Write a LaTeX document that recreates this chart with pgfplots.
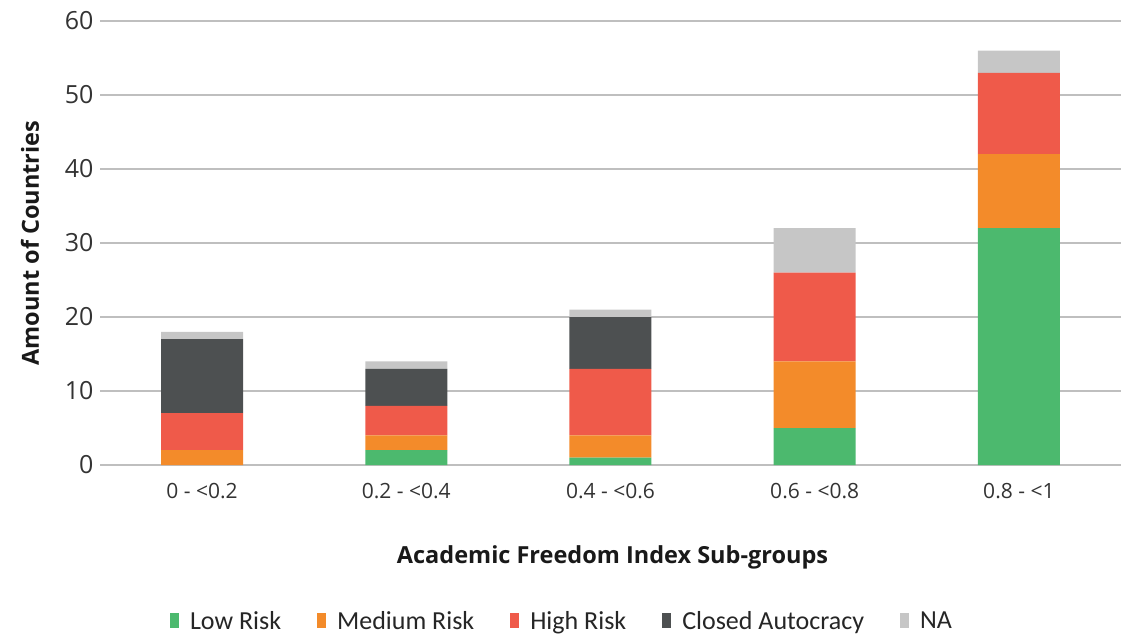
\documentclass[border=0pt]{standalone}
\usepackage{pgfplots}
\pgfplotsset{compat=1.18}
\usepackage{fontspec}
\setmainfont{Open Sans}
\newfontfamily\legfont{Carlito}
\definecolor{cLow}{HTML}{4CB96E}
\definecolor{cMed}{HTML}{F38B2A}
\definecolor{cHigh}{HTML}{EF5A4A}
\definecolor{cClosed}{HTML}{4D5051}
\definecolor{cNA}{HTML}{C6C6C6}
\begin{document}
\begin{tikzpicture}[x=1pt,y=1pt]
\useasboundingbox (0,0) rectangle (1121,637);
\begin{axis}[
  at={(100pt,172pt)}, anchor=south west,
  scale only axis, width=1021pt, height=444pt,
  ybar stacked, bar width=82pt,
  xmin=-0.5, xmax=4.5, ymin=0, ymax=60,
  xtick={0,1,2,3,4},
  xticklabels={0 - <0.2, 0.2 - <0.4, 0.4 - <0.6, 0.6 - <0.8, 0.8 - <1},
  ytick={0,10,20,30,40,50,60},
  axis line style={draw=none},
  major tick length=0pt,
  ymajorgrids, grid style={draw=black!25, line width=1.6pt},
  /pgf/number format/assume math mode=true,
  tick label style={text=black!80},
  xticklabel style={font=\fontsize{21}{25}\selectfont, yshift=-15pt},
  yticklabel style={font=\fontsize{25}{29}\selectfont, xshift=-3pt},
  xlabel={Academic Freedom Index Sub-groups},
  ylabel={Amount of Countries},
  label style={font=\fontsize{23.5}{28}\selectfont\bfseries, text=black!90},
  xlabel style={at={(0.502,-0.209)}, anchor=center},
  ylabel style={at={(-0.0686,0.5)}, anchor=center},
  legend columns=5,
  legend style={at={(0.4525,-0.351)}, anchor=center, draw=none,
    font=\legfont\fontsize{26}{30}\selectfont, text=black!85,
    /tikz/every odd column/.append style={column sep=9pt},
    /tikz/every even column/.append style={column sep=34pt}},
  legend image code/.code={\fill[#1] (0pt,-7pt) rectangle (9pt,8pt);},
]
\addplot[fill=cLow, draw=none] coordinates {(0,0) (1,2) (2,1) (3,5) (4,32)};
\addplot[fill=cMed, draw=none] coordinates {(0,2) (1,2) (2,3) (3,9) (4,10)};
\addplot[fill=cHigh, draw=none] coordinates {(0,5) (1,4) (2,9) (3,12) (4,11)};
\addplot[fill=cClosed, draw=none] coordinates {(0,10) (1,5) (2,7) (3,0) (4,0)};
\addplot[fill=cNA, draw=none] coordinates {(0,1) (1,1) (2,1) (3,6) (4,3)};
\legend{Low Risk, Medium Risk, High Risk, Closed Autocracy, NA}
\end{axis}
\end{tikzpicture}
\end{document}
